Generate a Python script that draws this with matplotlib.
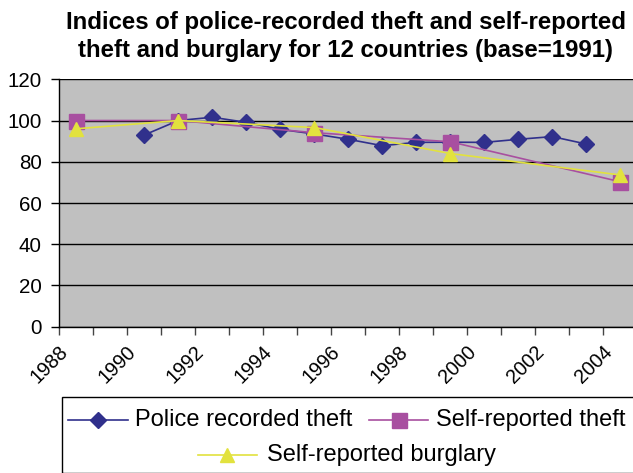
import numpy as np
import matplotlib
matplotlib.use("Agg")
import matplotlib.pyplot as plt
from matplotlib.lines import Line2D
from matplotlib.patches import Rectangle
from matplotlib.transforms import ScaledTranslation

plt.rcParams['font.family'] = ['Liberation Sans', 'DejaVu Sans']

# Index values (1991 = 100)
years = list(range(1988, 2005))
police_years = [1990, 1991, 1992, 1993, 1994, 1995, 1996, 1997, 1998, 1999, 2000, 2001, 2002, 2003]
police_theft = [93, 100, 101.6, 99.1, 95.7, 93.5, 90.9, 87.8, 89.4, 89.5, 89.4, 90.9, 92.2, 88.6]
survey_years = [1988, 1991, 1995, 1999, 2004]
self_theft = [100, 100, 94.1, 89.7, 70.3]
self_burglary = [96, 100, 96.6, 84, 73.6]

y_ticks = [0, 20, 40, 60, 80, 100, 120]
x_labels = [str(y) for y in years[::2]]

title = "Indices of police-recorded theft and self-reported\ntheft and burglary for 12 countries (base=1991)"
names = ["Police recorded theft", "Self-reported theft", "Self-reported burglary"]

navy = "#30308c"
pink = "#a84fa0"
yellow = "#e2e23e"

W, H = 633, 473
fig = plt.figure(figsize=(W / 100, H / 100), dpi=100)

left, right, top, bottom = 59.3, 637.3, 79.3, 326.7
ax = fig.add_axes([left / W, 1 - bottom / H, (right - left) / W, (bottom - top) / H])
ax.set_facecolor("#c0c0c0")

ax.plot(police_years, police_theft, color=navy, lw=1.2, marker='D', ms=8,
        mfc=navy, mec=navy, zorder=3)
ax.plot(survey_years, self_theft, color=pink, lw=1.2, marker='s', ms=10.8,
        mfc=pink, mec=pink, zorder=4)
ax.plot(survey_years, self_burglary, color=yellow, lw=1.2, marker='^', ms=10.5,
        mfc=yellow, mec=yellow, zorder=5)

ax.set_xlim(years[0] - 0.5, years[-1] + 0.5)
ax.set_ylim(0, 120)
ax.set_yticks(y_ticks)
ax.yaxis.grid(True, color='black', lw=1.0)
ax.set_axisbelow(True)
for s in ['top', 'right']:
    ax.spines[s].set_visible(False)
for s in ['left', 'bottom']:
    ax.spines[s].set_linewidth(1.0)

ax.set_xticks([y - 0.5 for y in years[::2]], x_labels)
ax.set_xticks([y - 0.5 for y in years[1::2]], minor=True)
ax.tick_params(axis='x', which='both', direction='out', length=6, width=1.0,
               color='#444444', pad=5, labelsize=14.3)
ax.tick_params(axis='y', direction='out', length=6, width=1.0, pad=6.5, labelsize=14.8)

shift = ScaledTranslation(-1 / 100, 0, fig.dpi_scale_trans)
for lab in ax.get_xticklabels():
    lab.set_rotation(45)
    lab.set_ha('right')
    lab.set_va('top')
    lab.set_rotation_mode('anchor')
    lab.set_transform(lab.get_transform() + shift)

fig.text(346 / W, 1 - 11 / H, title, ha='center', va='top', fontsize=17.3,
         fontweight='bold', linespacing=1.25)

# Legend box
fig.add_artist(Rectangle((62.3 / W, 0), 1.0, 1 - 397 / H, transform=fig.transFigure,
                         fill=False, edgecolor='black', lw=1.0))

def legend_entry(x0, x1, y, color, marker, ms, text, tx):
    yf = 1 - y / H
    fig.add_artist(Line2D([x0 / W, x1 / W], [yf, yf], transform=fig.transFigure,
                          color=color, lw=1.2))
    fig.add_artist(Line2D([(x0 + x1) / 2 / W], [yf], transform=fig.transFigure,
                          color=color, marker=marker, ms=ms, mfc=color, mec=color))
    fig.text(tx / W, yf, text, ha='left', va='center', fontsize=17)

legend_entry(68, 128, 420, navy, 'D', 8, names[0], 135)
legend_entry(369, 428, 420, pink, 's', 10.8, names[1], 436)
legend_entry(198, 257, 455, yellow, '^', 10.5, names[2], 267)

fig.savefig("out.png", dpi=100)
